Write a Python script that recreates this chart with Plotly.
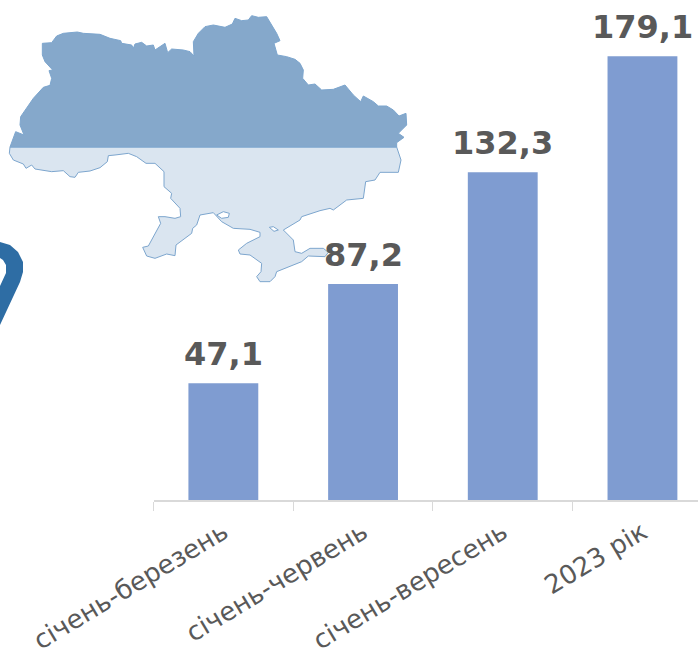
import plotly.graph_objects as go

categories = ["січень-березень", "січень-червень", "січень-вересень", "2023 рік"]
values = [47.1, 87.2, 132.3, 179.1]
labels = ["47,1", "87,2", "132,3", "179,1"]

# Decorative map outline, traced in 3x crop pixels
map_north = [(30,441),(47,395),(72,405),(60,375),(62,350),(100,295),(130,262),(150,256),(155,235),(147,212),(158,210),(135,185),(127,165),(127,130),(155,128),(170,108),(190,100),(232,96),(250,100),(300,103),(330,115),(362,122),(365,130),(395,135),(400,145),(405,132),(425,127),(440,138),(460,135),(465,150),(495,130),(503,158),(515,147),(550,150),(570,155),(582,168),(580,125),(595,100),(615,80),(640,75),(675,82),(697,72),(705,55),(725,62),(745,60),(755,47),(775,52),(800,50),(815,75),(830,100),(840,122),(822,130),(832,165),(860,170),(885,178),(900,190),(910,210),(908,235),(925,255),(945,252),(965,270),(1000,268),(1035,255),(1060,285),(1082,305),(1090,288),(1120,305),(1135,318),(1160,318),(1180,330),(1197,348),(1218,340),(1220,375),(1195,400),(1212,412),(1190,428),(1190,441),(30,441)]
map_south = [(30,441),(28,460),(40,480),(70,492),(78,505),(95,495),(105,507),(125,510),(155,515),(190,512),(210,530),(225,532),(235,517),(270,513),(300,503),(322,485),(325,467),(345,465),(385,460),(410,470),(438,490),(465,490),(492,515),(492,560),(515,580),(512,595),(540,625),(542,650),(525,655),(495,650),(475,650),(482,670),(460,710),(445,738),(428,742),(440,768),(465,775),(500,762),(525,767),(528,735),(575,700),(578,685),(590,675),(600,645),(640,638),(650,650),(665,665),(700,685),(750,688),(780,697),(780,710),(740,730),(715,750),(720,762),(750,765),(785,790),(783,815),(770,830),(780,845),(810,845),(825,830),(830,815),(905,785),(925,768),(975,770),(985,757),(970,745),(930,745),(905,760),(885,755),(880,720),(850,690),(900,660),(905,650),(960,632),(990,625),(1000,630),(1040,600),(1090,595),(1097,545),(1125,540),(1140,517),(1195,517),(1203,480),(1190,441),(30,441)]
lagoon_a = [(650,645),(670,635),(688,640),(685,652),(665,655),(650,645)]
lagoon_b = [(808,682),(820,680),(835,690),(822,694),(808,682)]
# Decorative pin fragment at the left edge, in page pixels
pin = [(0,242),(10,245),(18,252),(23,262),(23,272),(20,282),(0,325),(0,286),(6,273),(6,265),(3,260),(0,258),(0,242)]

W, H = 698, 655
AXIS_LEFT, BASE_Y = 153.5, 500
STEP = 139.7
PX_PER_UNIT = 2.477


def poly(pts, fill, line, scale=3.0):
    return go.Scatter(
        x=[p[0] / scale for p in pts], y=[p[1] / scale for p in pts],
        mode="lines", fill="toself", fillcolor=fill,
        line=dict(color=line, width=1), hoverinfo="skip",
        showlegend=False, xaxis="x", yaxis="y",
    )


fig = go.Figure()
fig.add_trace(poly(map_south, "#DAE5F0", "#7DA6CE"))
fig.add_trace(poly(map_north, "#85A8CB", "#7DA6CE"))
fig.add_trace(poly(lagoon_a, "#FFFFFF", "#7DA6CE"))
fig.add_trace(poly(lagoon_b, "#FFFFFF", "#7DA6CE"))
fig.add_trace(go.Scatter(
    x=[p[0] for p in pin], y=[p[1] for p in pin], mode="lines", fill="toself",
    fillcolor="#2E6DA4", line=dict(width=0), hoverinfo="skip",
    showlegend=False, xaxis="x", yaxis="y",
))
fig.add_trace(go.Bar(
    x=categories, y=values,
    marker=dict(color="#7F9CD1", line=dict(width=0)), width=0.5,
    showlegend=False, xaxis="x2", yaxis="y2",
))

annotations = [
    dict(x=c, y=v, text=t, xref="x2", yref="y2", showarrow=False,
         xanchor="center", yanchor="bottom", yshift=8,
         font=dict(family="DejaVu Sans", size=32, color="#595959", weight="bold"))
    for c, v, t in zip(categories, values, labels)
]

fig.update_layout(
    width=W, height=H, margin=dict(l=0, r=0, t=0, b=0),
    paper_bgcolor="white", plot_bgcolor="rgba(0,0,0,0)",
    annotations=annotations,
    xaxis=dict(domain=[0, 1], range=[0, W], visible=False, fixedrange=True, automargin=False),
    yaxis=dict(domain=[0, 1], range=[H, 0], visible=False, fixedrange=True, automargin=False),
    xaxis2=dict(
        domain=[AXIS_LEFT / W, 1], anchor="y2", type="category",
        categoryorder="array", categoryarray=categories,
        range=[-0.5, -0.5 + (W - AXIS_LEFT) / STEP],
        tickson="boundaries", ticks="outside", ticklen=9, tickwidth=1,
        tickcolor="#D9D9D9", showline=True, linecolor="#D9D9D9", linewidth=2,
        tickangle=-31, showgrid=False, automargin=False, ticklabelstandoff=5,
        tickfont=dict(family="DejaVu Sans", size=26, color="#595959"),
        fixedrange=True,
    ),
    yaxis2=dict(
        domain=[(H - BASE_Y) / H, 1], anchor="x2", range=[0, BASE_Y / PX_PER_UNIT],
        visible=False, fixedrange=True, automargin=False,
    ),
)

fig.write_html("out.html", post_script="document.body.style.margin='0';",
               config=dict(displayModeBar=False))
